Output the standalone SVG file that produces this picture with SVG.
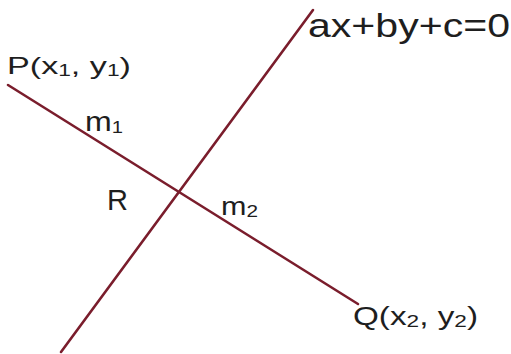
<svg xmlns="http://www.w3.org/2000/svg" width="511" height="354" viewBox="0 0 511 354">
<style>
.ln{stroke:#7a1d2c;stroke-width:2.6;stroke-linecap:round;fill:none}
.t{font-family:"Liberation Sans",Arial,sans-serif;fill:#1e1e1e}
</style>
<rect width="511" height="354" fill="#ffffff"/>
<g id="connectors">
<line class="ln" x1="8" y1="85" x2="358" y2="304"/>
<line class="ln" x1="61" y1="352" x2="313" y2="10"/>
</g>
<g id="line-eq"><text class="t" x="308" y="37" font-size="34" textLength="202" lengthAdjust="spacingAndGlyphs">ax+by+c=0</text></g>
<g id="P"><text class="t" x="7" y="74" font-size="24" textLength="124" lengthAdjust="spacingAndGlyphs">P(x<tspan font-size="16" dy="2">1</tspan><tspan dy="-2">, y</tspan><tspan font-size="16" dy="2">1</tspan><tspan dy="-2">)</tspan></text></g>
<g id="m1"><text class="t" x="85" y="131" font-size="27" textLength="38" lengthAdjust="spacingAndGlyphs">m<tspan font-size="17" dy="2">1</tspan></text></g>
<g id="R"><text class="t" x="107" y="210" font-size="29">R</text></g>
<g id="m2"><text class="t" x="221" y="215" font-size="25" textLength="37" lengthAdjust="spacingAndGlyphs">m<tspan font-size="17" dy="2">2</tspan></text></g>
<g id="Q"><text class="t" x="353" y="325" font-size="25" textLength="125" lengthAdjust="spacingAndGlyphs">Q(x<tspan font-size="17" dy="2">2</tspan><tspan dy="-2">, y</tspan><tspan font-size="17" dy="2">2</tspan><tspan dy="-2">)</tspan></text></g>
</svg>
